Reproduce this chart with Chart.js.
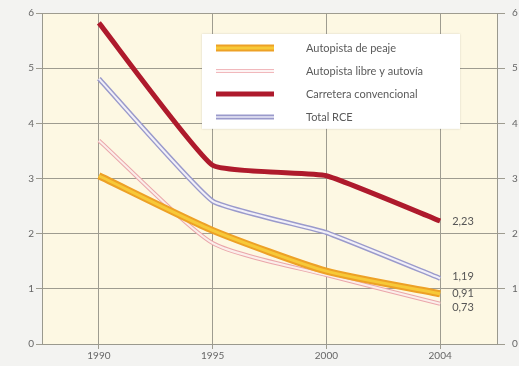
<!DOCTYPE html>
<html>
<head>
<meta charset="utf-8">
<script src="https://cdn.jsdelivr.net/npm/chart.js@4/dist/chart.umd.min.js"></script>
<style>
html,body{margin:0;padding:0;background:#f3f3f1;overflow:hidden;}
#wrap{width:519px;height:366px;position:relative;}
</style>
</head>
<body>
<div id="wrap"><canvas id="c" width="519" height="366"></canvas></div>
<script>
const years = ['1990', '1995', '2000', '2004'];
const yTicks = [0, 1, 2, 3, 4, 5, 6];
const peaje = [3.05, 2.06, 1.32, 0.91];
const libre = [3.69, 1.83, 1.25, 0.73];
const convencional = [5.82, 3.24, 3.05, 2.23];
const totalRCE = [4.81, 2.59, 2.02, 1.19];
const seriesNames = ['Autopista de peaje', 'Autopista libre y autovía', 'Carretera convencional', 'Total RCE'];
const endLabels = ['0,91', '0,73', '2,23', '1,19'];

const FONT = 'Lato, "DejaVu Sans", sans-serif';

function ds(data, color, width, tension) {
  return { data, borderColor: color, borderWidth: width, pointRadius: 0, tension: tension,
           fill: false, borderCapStyle: 'butt', borderJoinStyle: 'round' };
}

const datasets = [
  Object.assign(ds(totalRCE, '#9a9acb', 5, 0.12), {label: seriesNames[3], order: 4}),
  Object.assign(ds(totalRCE, '#f2f0f8', 2, 0.12), {label: '_t', order: 3}),
  Object.assign(ds(libre, '#eaa6aa', 4, 0.2), {label: seriesNames[1], order: 6}),
  Object.assign(ds(libre, '#fbeeea', 2, 0.2), {label: '_l', order: 5}),
  Object.assign(ds(peaje, '#eda126', 7, 0.2), {label: seriesNames[0], order: 2}),
  Object.assign(ds(peaje, '#f7c938', 3, 0.2), {label: '_p', order: 1}),
  Object.assign(ds(convencional, '#ae1a2c', 5, 0.12), {label: seriesNames[2], order: 0}),
];

const bgPlugin = {
  id: 'bg',
  beforeDraw(chart) {
    const {ctx, chartArea: a} = chart;
    ctx.save();
    ctx.fillStyle = '#fdf8e3';
    ctx.fillRect(a.left, a.top, a.right - a.left, a.bottom - a.top);
    ctx.restore();
  }
};

const legendPlugin = {
  id: 'customLegend',
  afterDatasetsDraw(chart) {
    const {ctx} = chart;
    const x = chart.scales.x, y = chart.scales.y;
    const bx = 202, by = y.getPixelForValue(5.62), bw = 258, bh = y.getPixelForValue(3.9) - by;
    ctx.save();
    ctx.fillStyle = '#ffffff';
    ctx.shadowColor = 'rgba(0,0,0,0.15)';
    ctx.shadowBlur = 2;
    ctx.fillRect(bx, by, bw, bh);
    ctx.shadowBlur = 0;
    const items = [
      {name: seriesNames[0], outer: '#eda126', ow: 7, inner: '#f7c938', iw: 3},
      {name: seriesNames[1], outer: '#f1b8bc', ow: 4, inner: '#fdf4f4', iw: 2},
      {name: seriesNames[2], outer: '#ae1a2c', ow: 5, inner: null},
      {name: seriesNames[3], outer: '#9a9acb', ow: 5, inner: '#d6d6ec', iw: 2},
    ];
    items.forEach((it, i) => {
      const ly = by + 14 + i * 23;
      ctx.lineCap = 'butt';
      ctx.strokeStyle = it.outer; ctx.lineWidth = it.ow;
      ctx.beginPath(); ctx.moveTo(216, ly); ctx.lineTo(274, ly); ctx.stroke();
      if (it.inner) {
        ctx.strokeStyle = it.inner; ctx.lineWidth = it.iw;
        ctx.beginPath(); ctx.moveTo(216, ly); ctx.lineTo(274, ly); ctx.stroke();
      }
      ctx.fillStyle = '#5a5a5a';
      ctx.font = '11px ' + FONT;
      ctx.textBaseline = 'middle';
      ctx.textAlign = 'left';
      ctx.fillText(it.name, 306, ly);
    });
    ctx.font = '11px ' + FONT;
    ctx.fillStyle = '#555';
    const lx = x.getPixelForValue(3) + 12;
    const vals = [convencional[3], totalRCE[3], peaje[3], libre[3]];
    const labs = [endLabels[2], endLabels[3], endLabels[0], endLabels[1]];
    const offs = [0, -2, 0, 4];
    vals.forEach((v, i) => {
      ctx.fillText(labs[i], lx, y.getPixelForValue(v) + offs[i]);
    });
    ctx.restore();
  }
};

new Chart(document.getElementById('c'), {
  type: 'line',
  data: { labels: years, datasets },
  options: {
    responsive: false,
    animation: false,
    devicePixelRatio: 1,
    layout: { padding: { top: 12, left: 0, right: 0, bottom: 0 } },
    plugins: { legend: { display: false }, tooltip: { enabled: false } },
    scales: {
      x: {
        type: 'category',
        offset: true,
        grid: { offset: false, color: '#9e9c90', lineWidth: 1, drawTicks: true, tickLength: 5 },
        border: { color: '#9a998e' },
        ticks: { color: '#666', font: { size: 10, family: FONT }, padding: 1 },
        afterFit(s) { s.height = 22; }
      },
      y: {
        position: 'left',
        min: 0, max: 6,
        afterBuildTicks(s) { s.ticks = yTicks.map(v => ({value: v})); },
        grid: { color: '#9e9c90', lineWidth: 1, tickLength: 6 },
        border: { color: '#9a998e' },
        ticks: { color: '#666', font: { size: 10, family: FONT }, padding: 2 },
        afterFit(s) { s.width = 42; }
      },
      y2: {
        position: 'right',
        min: 0, max: 6,
        afterBuildTicks(s) { s.ticks = yTicks.map(v => ({value: v})); },
        grid: { drawOnChartArea: false, color: '#9e9c90', tickLength: 8 },
        border: { color: '#9a998e' },
        ticks: { color: '#666', font: { size: 10, family: FONT }, padding: 7 },
        afterFit(s) { s.width = 22; }
      }
    }
  },
  plugins: [bgPlugin, legendPlugin]
});
</script>
</body>
</html>
